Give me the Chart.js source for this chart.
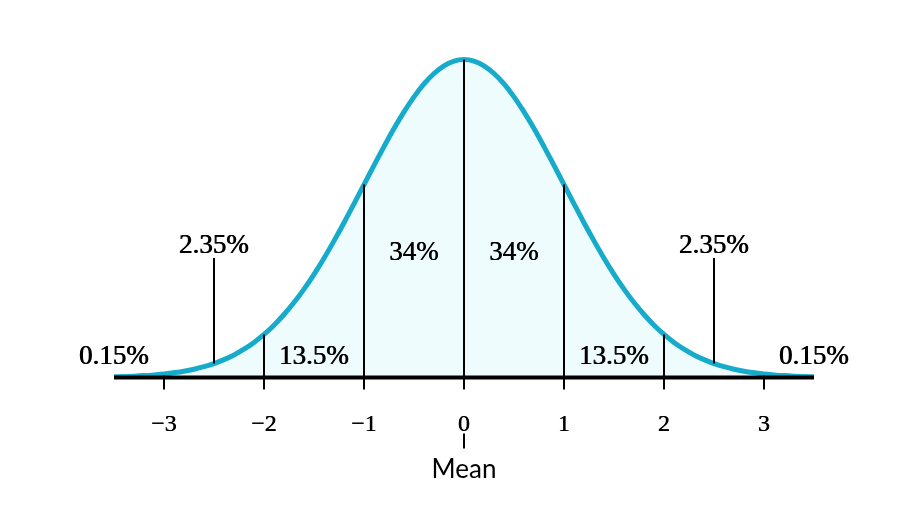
<!DOCTYPE html>
<html>
<head>
<meta charset="utf-8">
<script src="https://cdn.jsdelivr.net/npm/chart.js@4.4.0/dist/chart.umd.min.js"></script>
<style>
html,body{margin:0;padding:0;background:#fff;}
canvas{display:block;}
</style>
</head>
<body>
<canvas id="c" width="914" height="528"></canvas>
<script>
// ---- data ----
const xValues = [-3.5,-3.4,-3.3,-3.2,-3.1,-3.0,-2.9,-2.8,-2.7,-2.6,-2.5,-2.4,-2.3,-2.2,-2.1,-2.0,-1.9,-1.8,-1.7,-1.6,-1.5,-1.4,-1.3,-1.2,-1.1,-1.0,-0.9,-0.8,-0.7,-0.6,-0.5,-0.4,-0.3,-0.2,-0.1,0.0,0.1,0.2,0.3,0.4,0.5,0.6,0.7,0.8,0.9,1.0,1.1,1.2,1.3,1.4,1.5,1.6,1.7,1.8,1.9,2.0,2.1,2.2,2.3,2.4,2.5,2.6,2.7,2.8,2.9,3.0,3.1,3.2,3.3,3.4,3.5];
const density = [0.0009,0.0012,0.0017,0.0024,0.0033,0.0044,0.0060,0.0079,0.0104,0.0136,0.0175,0.0224,0.0283,0.0355,0.0440,0.0540,0.0656,0.0790,0.0940,0.1109,0.1295,0.1497,0.1714,0.1942,0.2179,0.2420,0.2661,0.2897,0.3123,0.3332,0.3521,0.3683,0.3814,0.3910,0.3970,0.3989,0.3970,0.3910,0.3814,0.3683,0.3521,0.3332,0.3123,0.2897,0.2661,0.2420,0.2179,0.1942,0.1714,0.1497,0.1295,0.1109,0.0940,0.0790,0.0656,0.0540,0.0440,0.0355,0.0283,0.0224,0.0175,0.0136,0.0104,0.0079,0.0060,0.0044,0.0033,0.0024,0.0017,0.0012,0.0009];
const dividerX = [-2,-1,0,1,2];
const dividerTop = [0.0540,0.2420,0.3989,0.2420,0.0540];
const pointerX = [-2.5,2.5];
const pointerBottom = [0.0175,0.0175];
const pointerTop = [0.150,0.150];
const tickValues = [-3,-2,-1,0,1,2,3];
const tickLabels = ['\u22123','\u22122','\u22121','0','1','2','3'];
const pctLabels = ['0.15%','2.35%','13.5%','34%','34%','13.5%','2.35%','0.15%'];
const pctX = [-3.5,-2.5,-1.5,-0.5,0.5,1.5,2.5,3.5];
const pctY = [0.0169,0.1562,0.0169,0.1474,0.1474,0.0169,0.1562,0.0169];
const meanLabel = 'Mean';

// ---- build datasets ----
const curvePts = xValues.map((x,i)=>({x:x,y:density[i]}));
const datasets = [];
dividerX.forEach((x,i)=>{
  datasets.push({data:[{x:x,y:0},{x:x,y:dividerTop[i]}],borderColor:'#000',borderWidth:2,pointRadius:0,fill:false,order:1,borderCapStyle:'butt'});
});
pointerX.forEach((x,i)=>{
  datasets.push({data:[{x:x,y:pointerBottom[i]},{x:x,y:pointerTop[i]}],borderColor:'#000',borderWidth:2,pointRadius:0,fill:false,order:1,borderCapStyle:'butt'});
});
datasets.push({data:curvePts,borderColor:'#17abcb',borderWidth:5,pointRadius:0,fill:'origin',backgroundColor:'#effcfd',tension:0.4,order:2});

const SERIF = '"Liberation Serif", "DejaVu Serif", serif';

function heavyText(ctx, t, x, y){
  ctx.fillText(t, x - 0.3, y);
  ctx.fillText(t, x + 0.3, y);
}

const decor = {
  id:'decor',
  afterDatasetsDraw(chart){
    const ctx = chart.ctx, xs = chart.scales.x, ys = chart.scales.y;
    const y0 = ys.getPixelForValue(0);
    ctx.save();
    ctx.strokeStyle='#000';
    ctx.lineWidth=2;
    tickValues.forEach(v=>{
      const px = Math.round(xs.getPixelForValue(v));
      ctx.beginPath();ctx.moveTo(px,y0-2);ctx.lineTo(px,y0+12);ctx.stroke();
    });
    ctx.lineWidth=4;
    ctx.beginPath();ctx.moveTo(xs.left,y0);ctx.lineTo(xs.right,y0);ctx.stroke();
    const pm = Math.round(xs.getPixelForValue(0));
    ctx.lineWidth=2;
    ctx.beginPath();ctx.moveTo(pm,y0+56);ctx.lineTo(pm,y0+71);ctx.stroke();
    ctx.fillStyle='#000';
    ctx.textAlign='center';
    ctx.textBaseline='alphabetic';
    ctx.font='24px '+SERIF;
    tickValues.forEach((v,i)=>{
      heavyText(ctx, tickLabels[i], xs.getPixelForValue(v), y0+53);
    });
    ctx.font='27px '+SERIF;
    pctLabels.forEach((t,i)=>{
      heavyText(ctx, t, xs.getPixelForValue(pctX[i]), ys.getPixelForValue(pctY[i]));
    });
    ctx.font='26px Lato, sans-serif';
    ctx.fillText(meanLabel, pm, y0+100);
    ctx.restore();
  }
};

new Chart(document.getElementById('c'),{
  type:'line',
  data:{datasets:datasets},
  options:{
    responsive:false,
    animation:false,
    layout:{padding:{left:114,right:100,top:18.8,bottom:150.5}},
    plugins:{legend:{display:false},tooltip:{enabled:false}},
    scales:{
      x:{type:'linear',min:-3.5,max:3.5,display:false},
      y:{type:'linear',min:0,max:0.45,display:false}
    }
  },
  plugins:[decor]
});
</script>
</body>
</html>
